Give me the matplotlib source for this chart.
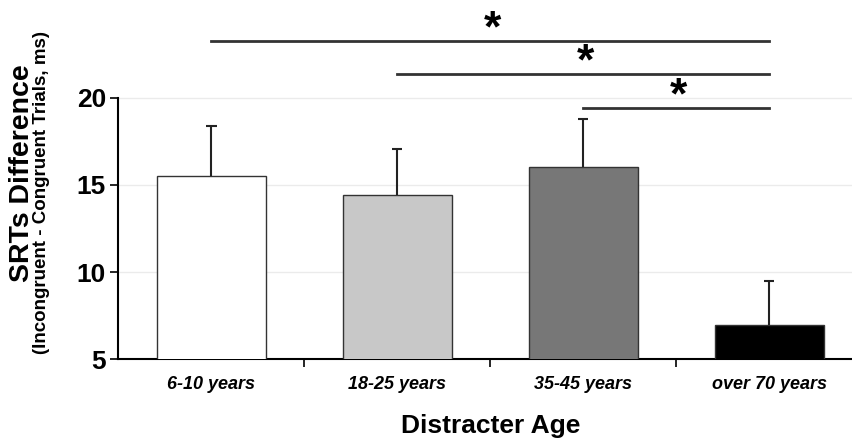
import numpy as np
import matplotlib
matplotlib.use('Agg')
import matplotlib.pyplot as plt

plt.rcParams['font.family'] = ['Liberation Sans', 'DejaVu Sans']

# datos
grupos = ['6-10 years', '18-25 years', '35-45 years', 'over 70 years']
medias = [15.52, 14.43, 16.03, 6.95]
errores = [2.87, 2.64, 2.76, 2.53]
colores = ['#ffffff', '#c8c8c8', '#777777', '#000000']

# comparaciones significativas (grupo inicio, grupo fin, altura)
pares = [(0, 3, 23.28), (1, 3, 21.38), (2, 3, 19.43)]

fig = plt.figure(figsize=(8.53, 4.43), dpi=100)
ax = fig.add_axes([0.1389, 0.1896, 0.8722, 0.7856])

x = np.arange(len(grupos))
medias = np.array(medias)
errores = np.array(errores)
ax.bar(x, medias, width=0.585, color=colores, edgecolor='#333333', linewidth=1, zorder=3)
# barras de error solo hacia arriba
ax.vlines(x, medias, medias + errores, color='#222222', linewidth=1.5, zorder=4)
ax.hlines(medias + errores, x - 0.027, x + 0.027, color='#222222', linewidth=1.5, zorder=4)

ax.set_xlim(-0.5, 3.5)
ax.set_ylim(5, 25)
ax.set_yticks([5, 10, 15, 20])
ax.set_yticklabels(['5', '10', '15', '20'], fontsize=19, fontweight='bold')
for yy in [10, 15, 20]:
    ax.axhline(yy, color='#ebebeb', linewidth=1, zorder=1)

ax.set_xticks(x)
ax.set_xticklabels(grupos, fontsize=13, fontweight='bold', style='italic')
ax.set_xticks([0.5, 1.5, 2.5], minor=True)
ax.tick_params(axis='x', which='major', length=0, pad=12)
ax.tick_params(axis='x', which='minor', length=6, width=1.2, direction='out')
ax.tick_params(axis='y', length=6, width=1.2, direction='out', pad=3)

for s in ['top', 'right']:
    ax.spines[s].set_visible(False)
ax.spines['left'].set_bounds(5, 20)
ax.spines['left'].set_linewidth(1.5)
ax.spines['bottom'].set_linewidth(1.5)

# lineas de significancia
for a, b, h in pares:
    ax.plot([a, b], [h, h], color='#333333', linewidth=2, clip_on=False, zorder=5)
    ax.text((a + b) / 2.0 + 0.01, h + 0.65, '*', ha='center', va='center',
            fontsize=32, fontweight='bold')

ax.set_xlabel('Distracter Age', fontsize=19, fontweight='bold', labelpad=15)

fig.text(0.026, 0.61, 'SRTs Difference', rotation=90, ha='center', va='center',
         fontsize=20.5, fontweight='bold')
fig.text(0.049, 0.565, '(Incongruent - Congruent Trials, ms)', rotation=90,
         ha='center', va='center', fontsize=13.5, fontweight='bold')

plt.savefig('out.png', dpi=100)
